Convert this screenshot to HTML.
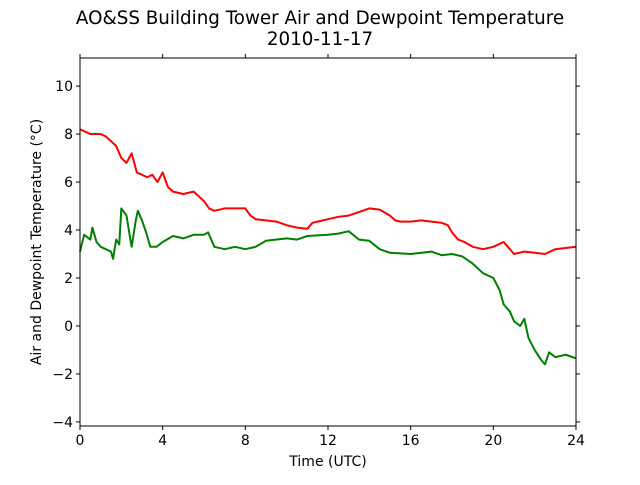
<!DOCTYPE html>
<html><head><meta charset="utf-8"><style>
body{margin:0;background:#fff;}
svg text{font-family:"DejaVu Sans","Liberation Sans",sans-serif;fill:#000;}
</style></head><body>
<svg id="chart" width="640" height="480" xmlns="http://www.w3.org/2000/svg">
<text x="320" y="24" font-size="18.3" text-anchor="middle">AO&amp;SS Building Tower Air and Dewpoint Temperature</text>
<text x="320" y="45" font-size="18.3" text-anchor="middle">2010-11-17</text>
<g id="plot"></g>
<text x="328" y="466" font-size="14" text-anchor="middle">Time (UTC)</text>
<text transform="translate(41,242) rotate(-90)" font-size="14" text-anchor="middle">Air and Dewpoint Temperature (°C)</text>
</svg>
<script>
const xTicks=[0,4,8,12,16,20,24];
const yTicks=[-4,-2,0,2,4,6,8,10];
const airT=[0,0.25,0.5,1,1.25,1.5,1.75,2,2.25,2.5,2.75,3,3.25,3.5,3.75,4,4.25,4.5,5,5.5,5.75,6,6.25,6.5,7,7.5,8,8.25,8.5,9,9.5,10,10.5,11,11.25,11.5,12,12.5,13,13.5,14,14.5,15,15.25,15.5,16,16.5,17,17.5,17.8,18,18.3,18.6,19,19.5,20,20.5,21,21.5,22,22.5,23,23.5,24];
const airV=[8.2,8.1,8.0,8.0,7.9,7.7,7.5,7.0,6.8,7.2,6.4,6.3,6.2,6.3,6.0,6.4,5.8,5.6,5.5,5.6,5.4,5.2,4.9,4.8,4.9,4.9,4.9,4.6,4.45,4.4,4.35,4.2,4.1,4.05,4.3,4.35,4.45,4.55,4.6,4.75,4.9,4.85,4.6,4.4,4.35,4.35,4.4,4.35,4.3,4.2,3.9,3.6,3.5,3.3,3.2,3.3,3.5,3.0,3.1,3.05,3.0,3.2,3.25,3.3];
const dewT=[0,0.2,0.5,0.6,0.8,1,1.25,1.5,1.6,1.75,1.9,2,2.25,2.4,2.5,2.7,2.8,3,3.2,3.4,3.7,4,4.5,5,5.5,6,6.2,6.5,7,7.5,8,8.5,9,10,10.5,11,12,12.5,13,13.5,14,14.5,15,16,17,17.5,18,18.5,19,19.5,20,20.3,20.5,20.8,21,21.3,21.5,21.7,22,22.3,22.5,22.7,23,23.5,24];
const dewV=[3.1,3.8,3.6,4.1,3.5,3.3,3.2,3.1,2.8,3.6,3.4,4.9,4.6,3.8,3.3,4.4,4.8,4.4,3.9,3.3,3.3,3.5,3.75,3.65,3.8,3.8,3.9,3.3,3.2,3.3,3.2,3.3,3.55,3.65,3.6,3.75,3.8,3.85,3.95,3.6,3.55,3.2,3.05,3.0,3.1,2.95,3.0,2.9,2.6,2.2,2.0,1.5,0.9,0.6,0.2,0.0,0.3,-0.5,-1.0,-1.4,-1.6,-1.1,-1.3,-1.2,-1.35];
const L=80,R=576,T=58,B=426,ymin=-4.17,ymax=11.17;
const xs=v=>L+(v/24)*(R-L);
const ys=v=>B-(v-ymin)/(ymax-ymin)*(B-T);
const NS="http://www.w3.org/2000/svg";
const g=document.getElementById('plot');
function mk(t,a){const e=document.createElementNS(NS,t);for(const k in a)e.setAttribute(k,a[k]);g.appendChild(e);return e;}
function line(ts,vs,c,name){
  const p=mk('polyline',{points:ts.map((t,i)=>xs(t)+','+ys(vs[i])).join(' '),fill:'none',stroke:c,'stroke-width':2,'stroke-linejoin':'round'});
  
  
}
line(airT,airV,'#ff0000','air-temperature-line');
line(dewT,dewV,'#008000','dewpoint-temperature-line');
const fr=mk('rect',{x:L,y:T,width:R-L,height:B-T,fill:'none',stroke:'#000','stroke-width':1});


xTicks.forEach(v=>{
  const x=xs(v);
  const t1=mk('line',{x1:x,x2:x,y1:B,y2:B+4,stroke:'#000'});
  
  
  const t2=mk('line',{x1:x,x2:x,y1:T,y2:T-4,stroke:'#000'});
  
  
  const tx=mk('text',{x:x,y:B+19,'font-size':14,'text-anchor':'middle'});tx.textContent=v;
  
  
});
yTicks.forEach(v=>{
  const y=ys(v);
  const t1=mk('line',{x1:L-4,x2:L,y1:y,y2:y,stroke:'#000'});
  
  
  const t2=mk('line',{x1:R,x2:R+4,y1:y,y2:y,stroke:'#000'});
  
  
  const tx=mk('text',{x:L-7,y:y+5,'font-size':14,'text-anchor':'end'});tx.textContent=v<0?'\u2212'+(-v):v;
  
  
});
</script>
</body></html>
